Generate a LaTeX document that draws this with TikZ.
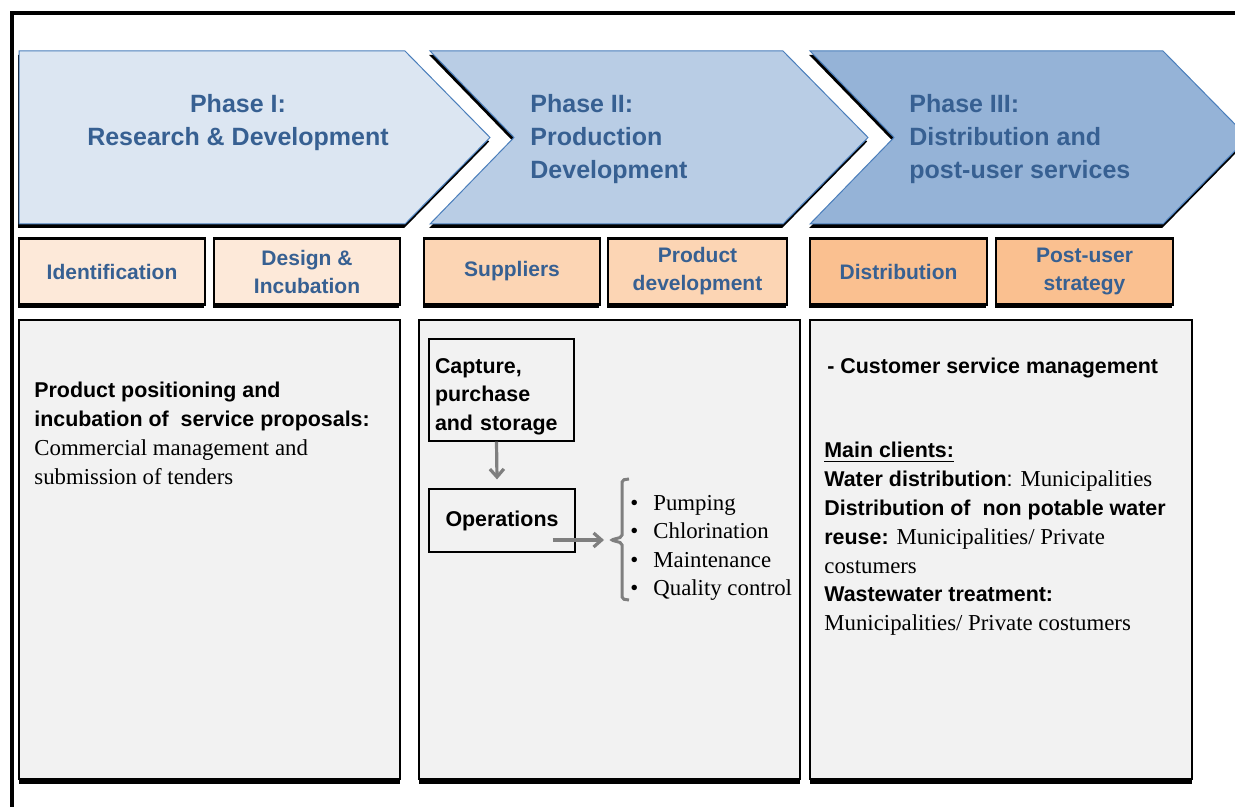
\documentclass[tikz,border=0pt]{standalone}
\usepackage{fontspec}
\setmainfont{Liberation Serif}
\setsansfont{Liberation Sans}
\usetikzlibrary{arrows.meta,shadows}

\definecolor{phaseone}{HTML}{DCE6F2}
\definecolor{phasetwo}{HTML}{B9CDE5}
\definecolor{phasethree}{HTML}{95B3D7}
\definecolor{chevline}{HTML}{4A7EBB}
\definecolor{titleblue}{HTML}{376092}
\definecolor{stageone}{HTML}{FDE9D9}
\definecolor{stagetwo}{HTML}{FCD5B4}
\definecolor{stagethree}{HTML}{FAC090}
\definecolor{panelgray}{HTML}{F2F2F2}
\definecolor{linkgray}{HTML}{7F7F7F}

\newcommand\srf[1]{{\rmfamily\mdseries\fontsize{11.4}{14.4}\selectfont #1}}

\tikzset{
  blackshadow/.style={drop shadow={shadow xshift=-0.4pt,shadow yshift=-2pt,opacity=1,fill=black}},
  chev/.style={draw=chevline,line width=0.5pt,blackshadow},
  phasetext/.style={font=\sffamily\bfseries\fontsize{12.5}{16.5}\selectfont,text=titleblue,inner sep=0pt,align=left,anchor=north west},
  stagebox/.style={draw=black,line width=1.2pt,blackshadow,minimum height=33pt,inner sep=0pt,align=center,text=titleblue,font=\sffamily\bfseries\fontsize{10.5}{14}\selectfont},
  panel/.style={draw=black,fill=panelgray,line width=1.2pt,drop shadow={shadow xshift=0pt,shadow yshift=-2.5pt,opacity=1,fill=black}},
  bodytext/.style={font=\sffamily\bfseries\fontsize{10.7}{14.4}\selectfont,inner sep=0pt,align=left,anchor=north west},
  opbox/.style={draw=black,line width=0.6pt,fill=panelgray,inner sep=0pt,font=\sffamily\bfseries\fontsize{10.7}{14.25}\selectfont},
  link/.style={draw=linkgray,line width=1.6pt,-{Straight Barb[length=4pt,width=7pt]}},
}

\begin{document}
\begin{tikzpicture}[x=0.5pt,y=-0.5pt]
    \useasboundingbox (0,0) rectangle (1235,807);
    % frame
    \draw[line width=2pt] (12,807) -- (12,13) -- (1235,13);

    % phases
    \path[chev,fill=phaseone] (19,51) -- (405,51) -- (490,137.5) -- (405,224) -- (19,224) -- cycle;
    \path[chev,fill=phasetwo] (430,51) -- (783,51) -- (868,137.5) -- (783,224) -- (430,224) -- (514,137.5) -- cycle;
    \path[chev,fill=phasethree] (810,51) -- (1163,51) -- (1248,137.5) -- (1163,224) -- (810,224) -- (894,137.5) -- cycle;
    \node[phasetext,align=center,anchor=north] (rdtitle) at (238,94) {Phase I:\\Research \& Development};
    \node[phasetext] (prodtitle) at (530,94) {Phase II:\\Production\\Development};
    \node[phasetext] (disttitle) at (909,94) {Phase III:\\Distribution and\\post-user services};

    % stages
    \node[stagebox,fill=stageone,minimum width=93pt] (ident) at (112,271.5) {Identification};
    \node[stagebox,fill=stageone,minimum width=93pt] (design) at (307,271.5) {Design \&\\Incubation};
    \node[stagebox,fill=stagetwo,minimum width=88pt] (suppl) at (512,271.5) {Suppliers};
    \node[stagebox,fill=stagetwo,minimum width=89.5pt] (proddev) at (697.5,271.5) {Product\\development};
    \node[stagebox,fill=stagethree,minimum width=88.5pt] (distr) at (898.5,271.5) {Distribution};
    \node[stagebox,fill=stagethree,minimum width=88.5pt] (postuser) at (1084.5,271.5) {Post-user\\strategy};

    % panels
    \path[panel] (19,320) rectangle (400,779);
    \path[panel] (419,320) rectangle (800,779);
    \path[panel] (810,320) rectangle (1192,779);

    % phase I panel
    \node[bodytext] (rdtext) at (34,382) {Product positioning and\\incubation of\ \ service proposals:\\\srf{Commercial management and}\\\srf{submission of tenders}};

    % phase II panel
    \node[opbox,minimum width=72.5pt,minimum height=51pt,text width=66.5pt,align=left] (capture) at (501.5,390) {\rule{0pt}{14pt}Capture,\\purchase\\and storage};
    \node[opbox,minimum width=73pt,minimum height=31.5pt] (ops) at (502,520.5) {Operations};
    \coordinate (bracetip) at (604,540);
    \draw[link] ([xshift=-2.5pt]capture.south) -- ([xshift=-2.5pt,yshift=4.5pt]ops.north);
    \draw[link] ([xshift=-11.5pt,yshift=-9.75pt]ops.east) -- (bracetip);
    \draw[linkgray,line width=1.5pt,rounded corners=1pt] (629,479) -- (622,480) -- (622,537) -- (611,540) -- (622,543) -- (622,599) -- (629,600);
    \node[font=\rmfamily\fontsize{11.4}{14.2}\selectfont,inner sep=0pt,align=left,anchor=north west] (tasks) at (630,495)
        {\makebox[11.5pt][l]{\textbullet}Pumping\\\makebox[11.5pt][l]{\textbullet}Chlorination\\\makebox[11.5pt][l]{\textbullet}Maintenance\\\makebox[11.5pt][l]{\textbullet}Quality control};

    % phase III panel
    \node[bodytext] (service) at (827,358) {- Customer service management};
    \node[bodytext] (clients) at (824,442) {\underline{Main clients:}\\Water distribution{\mdseries:} \srf{Municipalities}\\Distribution of\ \ non potable water\\reuse: \srf{Municipalities/ Private}\\\srf{costumers}\\Wastewater treatment:\\\srf{Municipalities/ Private costumers}};
\end{tikzpicture}
\end{document}
